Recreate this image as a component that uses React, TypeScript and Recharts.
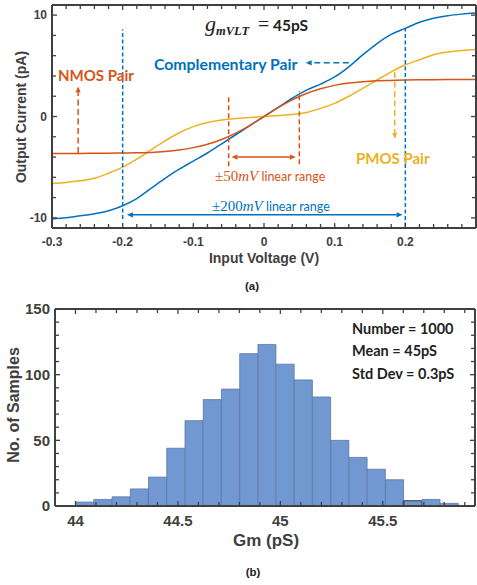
import React from 'react';
import { LineChart, Line, XAxis, YAxis, ReferenceLine, BarChart, Bar, Cell } from 'recharts';

// (a) output current vs input voltage, every 20 mV
const inputVoltage = [
  -0.3, -0.28, -0.26, -0.24, -0.22, -0.2, -0.18, -0.16, -0.14, -0.12, -0.1,
  -0.08, -0.06, -0.04, -0.02, 0, 0.02, 0.04, 0.06, 0.08, 0.1,
  0.12, 0.14, 0.16, 0.18, 0.2, 0.22, 0.24, 0.26, 0.28, 0.3,
];
const complementaryPair = [
  -10.1, -10.0, -9.8, -9.6, -9.3, -8.8, -8.1, -7.1, -6.1, -5.2, -4.4,
  -3.6, -2.7, -1.8, -0.9, 0, 0.9, 1.8, 2.6, 3.2, 3.9,
  4.9, 6.1, 7.2, 8.1, 8.7, 9.3, 9.7, 9.95, 10.1, 10.2,
];
const nmosPair = [
  -3.65, -3.65, -3.64, -3.63, -3.62, -3.6, -3.58, -3.54, -3.45, -3.3, -3.07,
  -2.74, -2.27, -1.64, -0.87, 0, 0.87, 1.64, 2.27, 2.74, 3.07,
  3.3, 3.44, 3.52, 3.56, 3.6, 3.62, 3.63, 3.64, 3.65, 3.65,
];
const pmosPair = [
  -6.6, -6.5, -6.35, -6.1, -5.6, -5.0, -4.2, -3.3, -2.4, -1.6, -1.0,
  -0.6, -0.35, -0.2, -0.1, 0, 0.1, 0.2, 0.4, 0.8, 1.3,
  2.0, 2.8, 3.6, 4.4, 5.1, 5.6, 6.1, 6.35, 6.5, 6.6,
];

const voltageTicks = [-0.3, -0.2, -0.1, 0, 0.1, 0.2];
const voltageMinorTicks = [
  -0.28, -0.26, -0.24, -0.22, -0.18, -0.16, -0.14, -0.12, -0.08, -0.06, -0.04, -0.02,
  0.02, 0.04, 0.06, 0.08, 0.12, 0.14, 0.16, 0.18, 0.22, 0.24, 0.26, 0.28,
];
const currentTicks = [-10, 0, 10];
const currentMinorTicks = [-8, -6, -4, -2, 2, 4, 6, 8];

// (b) Monte Carlo histogram of Gm
const gmBinCenters = [
  44.045, 44.134, 44.223, 44.312, 44.401, 44.49, 44.579, 44.668, 44.757, 44.846, 44.935,
  45.024, 45.113, 45.202, 45.291, 45.38, 45.469, 45.558, 45.647, 45.736, 45.825,
];
const gmCounts = [3, 5, 7, 13, 22, 44, 65, 81, 89, 116, 123, 108, 96, 83, 50, 37, 28, 20, 4, 5, 2];
const gmTicks = [44, 44.5, 45, 45.5];
const gmMinorTicks = [
  44.1, 44.2, 44.3, 44.4, 44.6, 44.7, 44.8, 44.9, 45.1, 45.2, 45.3, 45.4, 45.6, 45.7, 45.8, 45.9,
];
const countTicks = [0, 50, 100, 150];
const countMinorTicks = [10, 20, 30, 40, 60, 70, 80, 90, 110, 120, 130, 140];

const BLUE = '#0072BD';
const RED = '#D95319';
const ORANGE = '#EDB120';
const AXIS = '#404040';
const BAR = '#7198D0';
const BAR_EDGE = '#5B79A8';

const curveData = inputVoltage.map((v, i) => ({
  v,
  comp: complementaryPair[i],
  nmos: nmosPair[i],
  pmos: pmosPair[i],
}));
const histData = gmBinCenters.map((gm, i) => ({ gm, count: gmCounts[i] }));

// guide lines and arrows, in data units
type Guide = { x: number[]; y: number[]; color: string; dash?: string; heads: 'none' | 'end' | 'both' };
const guides: Guide[] = [
  { x: [-0.2, -0.2], y: [-10.1, 8.6], color: BLUE, dash: '4 2.5', heads: 'none' },
  { x: [0.2, 0.2], y: [-10.85, 8.7], color: BLUE, dash: '4 2.5', heads: 'none' },
  { x: [-0.05, -0.05], y: [-4.9, 2.2], color: RED, dash: '5 3', heads: 'none' },
  { x: [0.05, 0.05], y: [-4.7, 2.5], color: RED, dash: '5 3', heads: 'none' },
  { x: [-0.046, 0.045], y: [-4.0, -4.0], color: RED, heads: 'both' },
  { x: [-0.194, 0.196], y: [-9.7, -9.7], color: BLUE, heads: 'both' },
  { x: [-0.263, -0.263], y: [-3.6, 2.95], color: RED, dash: '6 3.5', heads: 'end' },
  { x: [0.12, 0.059], y: [5.3, 5.3], color: BLUE, dash: '6 3.5', heads: 'end' },
  { x: [0.185, 0.185], y: [4.4, -2.2], color: ORANGE, dash: '6 3.5', heads: 'end' },
];

const blank = () => '';

const makeArrow = (heads: Guide['heads'], dash?: string) => (p: any) => {
  const { x1, y1, x2, y2, stroke } = p;
  const len = Math.hypot(x2 - x1, y2 - y1) || 1;
  const ux = (x2 - x1) / len;
  const uy = (y2 - y1) / len;
  const hl = 6;
  const hw = 2.6;
  const head = (tx: number, ty: number, dx: number, dy: number) => {
    const bx = tx - dx * hl;
    const by = ty - dy * hl;
    return `${tx},${ty} ${bx - dy * hw},${by + dx * hw} ${bx + dy * hw},${by - dx * hw}`;
  };
  const sx = heads === 'both' ? x1 + ux * hl : x1;
  const sy = heads === 'both' ? y1 + uy * hl : y1;
  const ex = heads === 'none' ? x2 : x2 - ux * hl;
  const ey = heads === 'none' ? y2 : y2 - uy * hl;
  return (
    <g>
      <line x1={sx} y1={sy} x2={ex} y2={ey} stroke={stroke} strokeWidth={1.5} strokeDasharray={dash} />
      {heads !== 'none' && <polygon points={head(x2, y2, ux, uy)} fill={stroke} />}
      {heads === 'both' && <polygon points={head(x1, y1, -ux, -uy)} fill={stroke} />}
    </g>
  );
};

const tickFont = (size: number) => ({
  fill: AXIS,
  fontSize: size,
  fontWeight: 'bold',
  fontFamily: 'Liberation Sans, Arial, sans-serif',
});
const axisLine = { stroke: AXIS, strokeWidth: 2 };
const tickLine = { stroke: AXIS, strokeWidth: 1.3 };

const titleStyle = (size: number): React.CSSProperties => ({
  fontFamily: 'Liberation Sans, Arial, sans-serif',
  fontWeight: 'bold',
  fontSize: size,
  fill: AXIS,
});
const noteStyle = (size: number, color: string, weight = 'bold'): React.CSSProperties => ({
  fontFamily: 'Lato, sans-serif',
  fontWeight: weight as any,
  fontSize: size,
  fill: color,
});

export default function App() {
  return (
    <div style={{ position: 'absolute', left: 0, top: 0, width: 477, height: 585, background: '#fff' }}>
      <div style={{ position: 'absolute', left: 0, top: 0 }}>
        <LineChart width={477} height={300} data={curveData} margin={{ top: 5, right: 1, bottom: 0, left: 0 }}>
          <XAxis dataKey="v" type="number" domain={[-0.3, 0.3]} ticks={voltageTicks} interval={0}
            height={72} tickLine={false} tickSize={0} tickMargin={9} axisLine={axisLine}
            tick={tickFont(12)} tickFormatter={(v: number) => String(v)} allowDataOverflow />
          <XAxis xAxisId="bMaj" dataKey="v" type="number" domain={[-0.3, 0.3]} ticks={voltageTicks} interval={0}
            mirror height={1} axisLine={false} tickLine={tickLine} tickSize={5} tickFormatter={blank} allowDataOverflow />
          <XAxis xAxisId="bMin" dataKey="v" type="number" domain={[-0.3, 0.3]} ticks={voltageMinorTicks} interval={0}
            mirror height={1} axisLine={false} tickLine={tickLine} tickSize={3} tickFormatter={blank} allowDataOverflow />
          <XAxis xAxisId="tMaj" orientation="top" dataKey="v" type="number" domain={[-0.3, 0.3]} ticks={voltageTicks} interval={0}
            mirror height={1} axisLine={axisLine} tickLine={tickLine} tickSize={5} tickFormatter={blank} allowDataOverflow />
          <XAxis xAxisId="tMin" orientation="top" dataKey="v" type="number" domain={[-0.3, 0.3]} ticks={voltageMinorTicks} interval={0}
            mirror height={1} axisLine={false} tickLine={tickLine} tickSize={3} tickFormatter={blank} allowDataOverflow />

          <YAxis type="number" domain={[-11, 11]} ticks={currentTicks} interval={0} width={52}
            tickLine={false} tickSize={0} tickMargin={5} axisLine={axisLine} tick={tickFont(12)} allowDataOverflow />
          <YAxis yAxisId="lMaj" type="number" domain={[-11, 11]} ticks={currentTicks} interval={0} mirror width={1}
            axisLine={false} tickLine={tickLine} tickSize={5} tickFormatter={blank} allowDataOverflow />
          <YAxis yAxisId="lMin" type="number" domain={[-11, 11]} ticks={currentMinorTicks} interval={0} mirror width={1}
            axisLine={false} tickLine={tickLine} tickSize={3} tickFormatter={blank} allowDataOverflow />
          <YAxis yAxisId="rMaj" orientation="right" type="number" domain={[-11, 11]} ticks={currentTicks} interval={0} mirror width={1}
            axisLine={axisLine} tickLine={tickLine} tickSize={5} tickFormatter={blank} allowDataOverflow />
          <YAxis yAxisId="rMin" orientation="right" type="number" domain={[-11, 11]} ticks={currentMinorTicks} interval={0} mirror width={1}
            axisLine={false} tickLine={tickLine} tickSize={3} tickFormatter={blank} allowDataOverflow />

          <Line type="monotone" dataKey="comp" stroke={BLUE} strokeWidth={1.5} dot={false} isAnimationActive={false} />
          <Line type="monotone" dataKey="pmos" stroke={ORANGE} strokeWidth={1.5} dot={false} isAnimationActive={false} />
          <Line type="monotone" dataKey="nmos" stroke={RED} strokeWidth={1.5} dot={false} isAnimationActive={false} />

          {guides.map((g, i) => (
            <ReferenceLine key={i} stroke={g.color}
              segment={[{ x: g.x[0], y: g.y[0] }, { x: g.x[1], y: g.y[1] }]}
              shape={makeArrow(g.heads, g.dash)} />
          ))}
        </LineChart>
      </div>

      <div style={{ position: 'absolute', left: 0, top: 300 }}>
        <BarChart width={477} height={285} data={histData} margin={{ top: 9, right: 2, bottom: 0, left: 0 }}
          barCategoryGap={0} barGap={0}>
          <XAxis dataKey="gm" type="number" domain={[43.9, 45.95]} ticks={gmTicks} interval={0}
            height={79} tickLine={false} tickSize={0} tickMargin={9} axisLine={axisLine}
            tick={tickFont(15)} tickFormatter={(v: number) => String(v)} allowDataOverflow />
          <XAxis xAxisId="bMaj" dataKey="gm" type="number" domain={[43.9, 45.95]} ticks={gmTicks} interval={0}
            mirror height={1} axisLine={false} tickLine={tickLine} tickSize={5} tickFormatter={blank} allowDataOverflow />
          <XAxis xAxisId="bMin" dataKey="gm" type="number" domain={[43.9, 45.95]} ticks={gmMinorTicks} interval={0}
            mirror height={1} axisLine={false} tickLine={tickLine} tickSize={3} tickFormatter={blank} allowDataOverflow />
          <XAxis xAxisId="tMaj" orientation="top" dataKey="gm" type="number" domain={[43.9, 45.95]} ticks={gmTicks} interval={0}
            mirror height={1} axisLine={axisLine} tickLine={tickLine} tickSize={5} tickFormatter={blank} allowDataOverflow />
          <XAxis xAxisId="tMin" orientation="top" dataKey="gm" type="number" domain={[43.9, 45.95]} ticks={gmMinorTicks} interval={0}
            mirror height={1} axisLine={false} tickLine={tickLine} tickSize={3} tickFormatter={blank} allowDataOverflow />

          <YAxis type="number" domain={[0, 150]} ticks={countTicks} interval={0} width={55}
            tickLine={false} tickSize={0} tickMargin={5} axisLine={axisLine} tick={tickFont(15)} allowDataOverflow />
          <YAxis yAxisId="lMaj" type="number" domain={[0, 150]} ticks={countTicks} interval={0} mirror width={1}
            axisLine={false} tickLine={tickLine} tickSize={5} tickFormatter={blank} allowDataOverflow />
          <YAxis yAxisId="lMin" type="number" domain={[0, 150]} ticks={countMinorTicks} interval={0} mirror width={1}
            axisLine={false} tickLine={tickLine} tickSize={3} tickFormatter={blank} allowDataOverflow />
          <YAxis yAxisId="rMaj" orientation="right" type="number" domain={[0, 150]} ticks={countTicks} interval={0} mirror width={1}
            axisLine={axisLine} tickLine={tickLine} tickSize={5} tickFormatter={blank} allowDataOverflow />
          <YAxis yAxisId="rMin" orientation="right" type="number" domain={[0, 150]} ticks={countMinorTicks} interval={0} mirror width={1}
            axisLine={false} tickLine={tickLine} tickSize={3} tickFormatter={blank} allowDataOverflow />

          <Bar dataKey="count" fill={BAR} stroke={BAR_EDGE} strokeWidth={0.8} isAnimationActive={false}>
            {histData.map((d, i) => (
              <Cell key={i} stroke={d.count === 4 ? '#111' : BAR_EDGE} />
            ))}
          </Bar>
        </BarChart>
      </div>

      <svg width={477} height={585} style={{ position: 'absolute', left: 0, top: 0, pointerEvents: 'none' }}>
        {/* (a) titles */}
        <text x={21} y={117} transform="rotate(-90 21 117)" textAnchor="middle" dominantBaseline="central" style={titleStyle(14)}>
          Output Current (pA)
        </text>
        <text x={264} y={258} textAnchor="middle" dominantBaseline="central" style={titleStyle(14)}>
          Input Voltage (V)
        </text>
        <text x={252} y={286} textAnchor="middle" dominantBaseline="central" style={{ ...titleStyle(11.5), fill: '#222' }}>
          (a)
        </text>

        {/* (a) notes */}
        <text x={58} y={74.5} dominantBaseline="central" style={noteStyle(15, RED)}>NMOS Pair</text>
        <text x={154} y={63.5} dominantBaseline="central" style={noteStyle(15.8, BLUE)}>Complementary Pair</text>
        <text x={356} y={158} dominantBaseline="central" style={noteStyle(15, ORANGE)}>PMOS Pair</text>
        <text x={215} y={181} fill={RED}>
          <tspan style={{ fontFamily: 'Liberation Serif, serif', fontSize: 15 }}>±50</tspan>
          <tspan style={{ fontFamily: 'Liberation Serif, serif', fontSize: 15, fontStyle: 'italic' }}>mV</tspan>
          <tspan style={noteStyle(12.5, RED, 'normal')}> linear range</tspan>
        </text>
        <text x={212} y={211} fill={BLUE}>
          <tspan style={{ fontFamily: 'Liberation Serif, serif', fontSize: 15 }}>±200</tspan>
          <tspan style={{ fontFamily: 'Liberation Serif, serif', fontSize: 15, fontStyle: 'italic' }}>mV</tspan>
          <tspan style={noteStyle(12.5, BLUE, 'normal')}> linear range</tspan>
        </text>
        <text x={205} y={31} fill="#222">
          <tspan style={{ fontFamily: 'Liberation Serif, serif', fontSize: 22, fontStyle: 'italic' }}>g</tspan>
          <tspan dy={4} style={{ fontFamily: 'Liberation Serif, serif', fontSize: 12.5, fontStyle: 'italic', fontWeight: 'bold' }}>mVLT</tspan>
          <tspan x={258} dy={-4} style={{ fontFamily: 'Liberation Serif, serif', fontSize: 20 }}>=</tspan>
          <tspan x={273} style={noteStyle(15.5, '#222')}>45pS</tspan>
        </text>

        {/* (b) titles */}
        <text x={13} y={405} transform="rotate(-90 13 405)" textAnchor="middle" dominantBaseline="central" style={titleStyle(16)}>
          No. of Samples
        </text>
        <text x={266} y={540} textAnchor="middle" dominantBaseline="central" style={titleStyle(17)}>
          Gm (pS)
        </text>
        <text x={253} y={572} textAnchor="middle" dominantBaseline="central" style={{ ...titleStyle(11.5), fill: '#222' }}>
          (b)
        </text>

        {/* (b) stats */}
        <text x={352} y={328} dominantBaseline="central" style={noteStyle(14.5, '#222')}>Number = 1000</text>
        <text x={352} y={350} dominantBaseline="central" style={noteStyle(14.5, '#222')}>Mean = 45pS</text>
        <text x={352} y={373} dominantBaseline="central" style={noteStyle(14.5, '#222')}>Std Dev = 0.3pS</text>
      </svg>
    </div>
  );
}
